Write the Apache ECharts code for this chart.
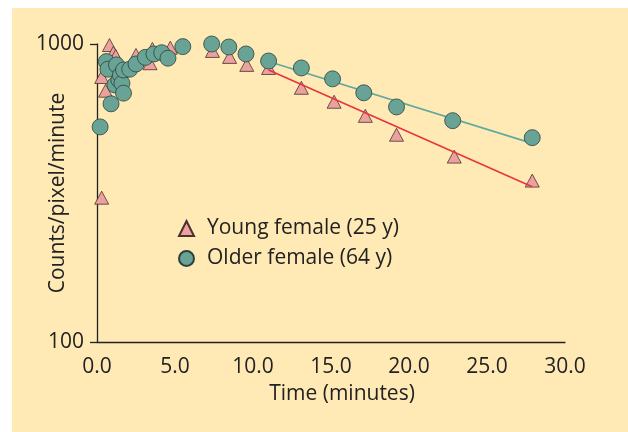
<!DOCTYPE html>
<html><head><meta charset="utf-8">
<script src="https://cdn.jsdelivr.net/npm/echarts@6/dist/echarts.min.js"></script>
<style>html,body{margin:0;padding:0;background:#fff}#wrap{position:absolute;left:12px;top:8px;width:616px;height:424px;background:#FFEAB6}#c{position:absolute;left:0;top:0;width:628px;height:432px}</style>
</head><body><div id="wrap"></div><div id="c"></div>
<script>
const youngX = [0.3, 0.3, 0.55, 0.8, 1.05, 1.2, 2.5, 3.4, 3.55, 4.7, 7.4, 8.5, 9.6, 11.0, 13.1, 15.2, 17.2, 19.2, 22.9, 27.9];
const youngY = [305, 775, 697, 992, 935, 912, 919, 862, 963, 972, 948, 905, 851, 831, 713, 640, 574, 496, 419, 348];
const olderX = [0.2, 0.6, 0.7, 0.9, 1.15, 1.25, 1.4, 1.5, 1.6, 1.7, 1.7, 2.1, 2.5, 3.1, 3.65, 4.15, 4.55, 5.5, 7.35, 8.45, 9.55, 11.0, 13.1, 15.1, 17.1, 19.2, 22.8, 27.9];
const olderY = [527, 873, 823, 630, 729, 851, 758, 787, 738, 818, 684, 823, 857, 902, 926, 935, 896, 980, 1000, 977, 926, 877, 831, 764, 686, 615, 553, 485];
const youngFitX = [11.0, 27.9];
const youngFitY = [818, 332];
const olderFitX = [11.0, 27.9];
const olderFitY = [873, 464];
const seriesNames = ['Young female (25 y)', 'Older female (64 y)'];
const xTicks = [0, 5, 10, 15, 20, 25, 30];

const zip = (a, b) => a.map((v, i) => [v, b[i]]);
const font = 'Open Sans';
const fs = 21;
const chart = echarts.init(document.getElementById('c'), null, {renderer: 'canvas'});
chart.setOption({
  backgroundColor: 'transparent',
  animation: false,
  textStyle: {fontFamily: font},
  grid: {left: 97, right: 63, top: 44, bottom: 90},
  xAxis: {
    type: 'value', min: xTicks[0], max: xTicks[xTicks.length - 1], interval: 5,
    name: 'Time (minutes)', nameLocation: 'middle', nameGap: 42, nameMoveOverlap: false,
    nameTextStyle: {fontSize: fs, color: '#222', fontFamily: font, padding: [0, 0, 0, 22]},
    axisLine: {lineStyle: {color: '#222', width: 1.3}},
    axisTick: {show: false},
    splitLine: {show: false},
    axisLabel: {fontSize: fs, color: '#222', margin: 15, fontFamily: font, formatter: v => v.toFixed(1)}
  },
  yAxis: {
    type: 'log', logBase: 10, min: 100, max: 1000,
    name: 'Counts/pixel/minute', nameLocation: 'middle', nameGap: 28, nameMoveOverlap: false,
    nameTextStyle: {fontSize: fs, color: '#222', fontFamily: font},
    axisLine: {show: true, lineStyle: {color: '#222', width: 1.3}},
    axisTick: {show: true, length: 7, lineStyle: {color: '#222', width: 1.3}},
    minorTick: {show: false},
    splitLine: {show: false},
    axisLabel: {fontSize: fs, color: '#222', margin: 13, fontFamily: font, formatter: v => String(Math.round(v))}
  },
  legend: {
    data: seriesNames, orient: 'vertical', left: 173, top: 213,
    itemWidth: 15, itemHeight: 15, itemGap: 9,
    textStyle: {fontSize: fs, color: '#222', fontFamily: font, padding: [0, 0, 0, 8]}
  },
  series: [
    {name: seriesNames[0], type: 'scatter', symbol: 'triangle', symbolSize: [14, 13],
     itemStyle: {color: '#EBA19D', borderColor: '#4a3030', borderWidth: 0.8, opacity: 1},
     data: zip(youngX, youngY), z: 2},
    {type: 'line', data: zip(youngFitX, youngFitY), symbol: 'none', silent: true,
     lineStyle: {color: '#E8343C', width: 1.6}, z: 3},
    {type: 'line', data: zip(olderFitX, olderFitY), symbol: 'none', silent: true,
     lineStyle: {color: '#5FA9A0', width: 1.6}, z: 3},
    {name: seriesNames[1], type: 'scatter', symbol: 'circle', symbolSize: 16,
     itemStyle: {color: '#68A396', borderColor: '#2c423d', borderWidth: 0.8, opacity: 1},
     data: zip(olderX, olderY), z: 4}
  ]
});
</script></body></html>
